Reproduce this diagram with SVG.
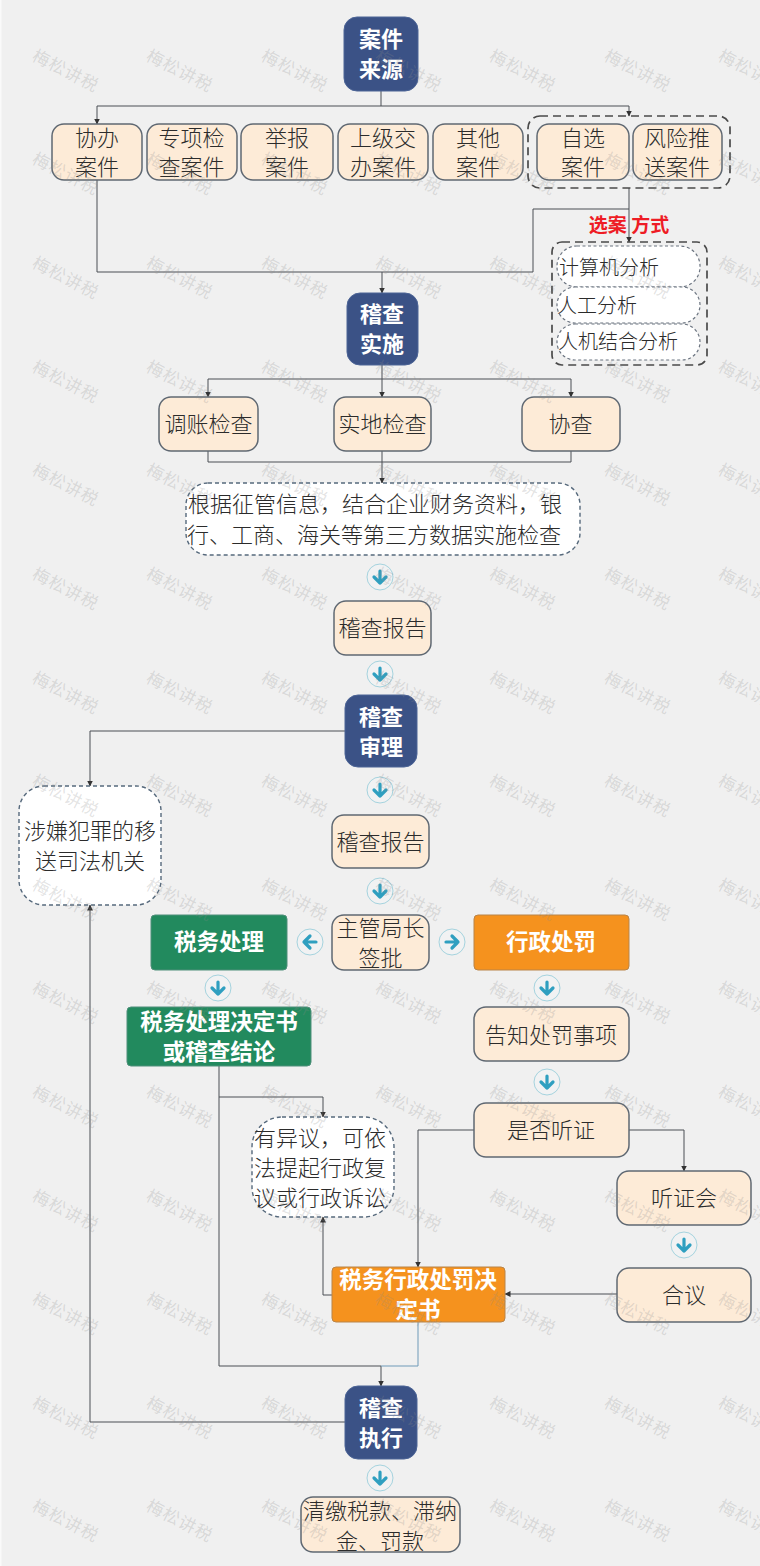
<svg xmlns="http://www.w3.org/2000/svg" width="760" height="1566" viewBox="0 0 760 1566">
<style>
text{font-family:"Noto Sans CJK SC","Noto Sans",sans-serif;text-anchor:middle}
.t{font-size:22px;fill:#2b2b2b;font-weight:300}
.w{font-size:22px;fill:#fff;font-weight:700}
.x{font-size:22.500px}
.s{font-size:20px;fill:#2b2b2b;font-weight:300}
.l{text-anchor:start}
.c{fill:#fdebd7;stroke:#5f6872;stroke-width:1.5}
.n{fill:#3b5286;stroke:#4c6496;stroke-width:1}
.g{fill:#228a5e;stroke:#4f8f7a;stroke-width:1}
.o{fill:#f5921e;stroke:#b98449;stroke-width:1}
.d{fill:#fff;stroke:#56697c;stroke-width:1.4;stroke-dasharray:4 3}
.p{fill:#fff;stroke:#6b7480;stroke-width:1.2;stroke-dasharray:3 2.5}
.b{fill:none;stroke:#4a4a4a;stroke-width:1.7;stroke-dasharray:8 5}
.e{fill:none;stroke:#4a4f55;stroke-width:1}
.ring{fill:#f1f2f3;stroke:#a5d3de;stroke-width:1}
.ar{fill:none;stroke:#2f9fc0;stroke-width:3.200;stroke-linecap:round;stroke-linejoin:round}
.wm{font-size:17px;fill:#8a8a8a;fill-opacity:.24;font-weight:400}
</style>
<defs>
<marker id="a" markerWidth="7" markerHeight="7" refX="5.500" refY="3" orient="auto" markerUnits="userSpaceOnUse"><path d="M0 0L6 3L0 6Z" fill="#333"/></marker>
<g id="ad"><circle class="ring" r="13"/><path class="ar" d="M0-6V6M-6 0L0 6L6 0"/></g>
<g id="al"><circle class="ring" r="13"/><path class="ar" d="M6 0H-6M0-6L-6 0L0 6"/></g>
<g id="ar"><circle class="ring" r="13"/><path class="ar" d="M-6 0H6M0-6L6 0L0 6"/></g>
<text id="m" class="wm" transform="rotate(27)" letter-spacing="1">梅松讲税</text>
</defs>
<rect width="760" height="1566" fill="#f0f0f0"/>
<rect width="1.500" height="1566" fill="#fafafa"/>
<g id="connectors">
<path class="e" marker-end="url(#a)" d="M381 91V106H97V124"/>
<path class="e" marker-end="url(#a)" d="M381 106H629V116"/>
<path class="e" d="M97 180V272H533V209H629"/>
<path class="e" marker-end="url(#a)" d="M629 188V242"/>
<path class="e" marker-end="url(#a)" d="M382 272V293"/>
<path class="e" marker-end="url(#a)" d="M382 365V397"/>
<path class="e" marker-end="url(#a)" d="M382 379H208V397"/>
<path class="e" marker-end="url(#a)" d="M382 379H571V397"/>
<path class="e" d="M208 451V462H571V451"/>
<path class="e" marker-end="url(#a)" d="M382 451V483"/>
<path class="e" marker-end="url(#a)" d="M345 731H90V786"/>
<path class="e" marker-end="url(#a)" d="M345 1422H90V905"/>
<path class="e" marker-end="url(#a)" d="M219 1066V1366H381V1386"/>
<path class="e" marker-end="url(#a)" d="M219 1097H323V1117"/>
<path class="e" style="stroke:#6f9ab8" d="M418 1322V1366H381"/>
<path class="e" marker-end="url(#a)" d="M474 1130H418V1267"/>
<path class="e" marker-end="url(#a)" d="M629 1130H684V1171"/>
<path class="e" marker-end="url(#a)" d="M617 1294H505"/>
<path class="e" marker-end="url(#a)" d="M332 1295H323V1217"/>
</g>
<g id="group-select"><rect class="b" x="528" y="116" width="202" height="72" rx="12"/></g>
<g id="group-method"><rect class="b" x="552" y="242" width="155" height="123" rx="10"/></g>
<g id="n1"><rect class="n" x="344" y="17" width="74" height="74" rx="13"/><text class="w" x="381" y="47">案件</text><text class="w" x="381" y="77">来源</text></g>
<g id="n2"><rect class="c" x="52" y="124" width="90" height="56" rx="12"/><text class="t" x="97" y="146">协办</text><text class="t" x="97" y="175">案件</text></g>
<g id="n3"><rect class="c" x="147" y="124" width="90" height="56" rx="12"/><text class="t" x="191.500" y="146">专项检</text><text class="t" x="191.500" y="175">查案件</text></g>
<g id="n4"><rect class="c" x="241" y="124" width="92" height="56" rx="12"/><text class="t" x="287" y="146">举报</text><text class="t" x="287" y="175">案件</text></g>
<g id="n5"><rect class="c" x="338" y="124" width="90" height="56" rx="12"/><text class="t" x="383" y="146">上级交</text><text class="t" x="383" y="175">办案件</text></g>
<g id="n6"><rect class="c" x="433" y="124" width="90" height="56" rx="12"/><text class="t" x="478" y="146">其他</text><text class="t" x="478" y="175">案件</text></g>
<g id="n7"><rect class="c" x="537" y="124" width="92" height="56" rx="12"/><text class="t" x="583" y="146">自选</text><text class="t" x="583" y="175">案件</text></g>
<g id="n8"><rect class="c" x="633" y="124" width="89" height="56" rx="12"/><text class="t" x="677" y="146">风险推</text><text class="t" x="677" y="175">送案件</text></g>
<g id="label-method"><text x="629" y="232" font-size="19" font-weight="700" fill="#ee1c25" xml:space="preserve">选案 方式</text></g>
<g id="m1"><rect class="p" x="557" y="246" width="143" height="41" rx="20"/><text class="s l" x="559" y="275">计算机分析</text></g>
<g id="m2"><rect class="p" x="557" y="287" width="143" height="36" rx="18"/><text class="s l" x="557" y="313">人工分析</text></g>
<g id="m3"><rect class="p" x="557" y="324" width="143" height="36" rx="18"/><text class="s l" x="558" y="349">人机结合分析</text></g>
<g id="n9"><rect class="n" x="347" y="293" width="71" height="72" rx="13"/><text class="w" x="382" y="322">稽查</text><text class="w" x="382" y="352">实施</text></g>
<g id="n10"><rect class="c" x="159" y="397" width="99" height="54" rx="12"/><text class="t" x="208.500" y="432">调账检查</text></g>
<g id="n11"><rect class="c" x="334" y="397" width="97" height="54" rx="12"/><text class="t" x="382.500" y="432">实地检查</text></g>
<g id="n12"><rect class="c" x="522" y="397" width="98" height="54" rx="12"/><text class="t" x="570.500" y="432">协查</text></g>
<g id="n13"><rect class="d" x="186" y="483" width="394" height="72" rx="22"/><text class="t" x="375" y="512" textLength="374">根据征管信息，结合企业财务资料，银</text><text class="t" x="374" y="543" textLength="374">行、工商、海关等第三方数据实施检查</text></g>
<use href="#ad" x="380" y="577"/>
<g id="n14"><rect class="c" x="334" y="601" width="97" height="54" rx="12"/><text class="t" x="382.500" y="636">稽查报告</text></g>
<use href="#ad" x="380" y="674"/>
<g id="n15"><rect class="n" x="345" y="695" width="72" height="72" rx="13"/><text class="w" x="381" y="725">稽查</text><text class="w" x="381" y="755">审理</text></g>
<g id="n16"><rect class="d" x="19" y="786" width="142" height="119" rx="25"/><text class="t" x="90" y="839">涉嫌犯罪的移</text><text class="t" x="90" y="869">送司法机关</text></g>
<use href="#ad" x="380" y="790"/>
<g id="n17"><rect class="c" x="332" y="815" width="97" height="53" rx="12"/><text class="t" x="380.500" y="850">稽查报告</text></g>
<use href="#ad" x="380" y="891"/>
<g id="n18"><rect class="c" x="332" y="915" width="97" height="55" rx="12"/><text class="t" x="380.500" y="936">主管局长</text><text class="t" x="380.500" y="966">签批</text></g>
<use href="#al" x="310" y="942"/>
<use href="#ar" x="452" y="942"/>
<g id="n19"><rect class="g" x="151" y="915" width="136" height="55" rx="4"/><text class="w x" x="219" y="950">税务处理</text></g>
<use href="#ad" x="218" y="988"/>
<g id="n20"><rect class="g" x="127" y="1007" width="184" height="59" rx="4"/><text class="w x" x="219" y="1030">税务处理决定书</text><text class="w x" x="219" y="1060">或稽查结论</text></g>
<g id="n21"><rect class="o" x="474" y="915" width="155" height="55" rx="4"/><text class="w x" x="551" y="950">行政处罚</text></g>
<use href="#ad" x="547" y="988"/>
<g id="n22"><rect class="c" x="474" y="1007" width="155" height="54" rx="12"/><text class="t" x="551" y="1043">告知处罚事项</text></g>
<use href="#ad" x="547" y="1082"/>
<g id="n23"><rect class="c" x="474" y="1103" width="155" height="54" rx="12"/><text class="t" x="551" y="1138">是否听证</text></g>
<g id="n24"><rect class="c" x="617" y="1171" width="134" height="54" rx="12"/><text class="t" x="684" y="1206">听证会</text></g>
<use href="#ad" x="684" y="1245"/>
<g id="n25"><rect class="c" x="617" y="1268" width="134" height="54" rx="12"/><text class="t" x="684" y="1303">合议</text></g>
<g id="n26"><rect class="d" x="252" y="1117" width="142" height="100" rx="30"/><text class="t" x="320" y="1146">有异议，可依</text><text class="t" x="320" y="1176">法提起行政复</text><text class="t" x="320" y="1206">议或行政诉讼</text></g>
<g id="n27"><rect class="o" x="332" y="1267" width="173" height="55" rx="4"/><text class="w x" x="418" y="1288">税务行政处罚决</text><text class="w x" x="418" y="1318">定书</text></g>
<g id="n28"><rect class="n" x="345" y="1386" width="72" height="73" rx="13"/><text class="w" x="381" y="1416">稽查</text><text class="w" x="381" y="1446">执行</text></g>
<use href="#ad" x="380" y="1478"/>
<g id="n29"><rect class="c" x="301" y="1497" width="159" height="55" rx="12"/><text class="t" x="380" y="1519">清缴税款、滞纳</text><text class="t" x="380" y="1549">金、罚款</text></g>
<g id="watermarks">
<use href="#m" x="63" y="76"/><use href="#m" x="177" y="76"/><use href="#m" x="292" y="76"/><use href="#m" x="406" y="76"/><use href="#m" x="520" y="76"/><use href="#m" x="635" y="76"/><use href="#m" x="749" y="76"/>
<use href="#m" x="63" y="179"/><use href="#m" x="177" y="179"/><use href="#m" x="292" y="179"/><use href="#m" x="406" y="179"/><use href="#m" x="520" y="179"/><use href="#m" x="635" y="179"/><use href="#m" x="749" y="179"/>
<use href="#m" x="63" y="283"/><use href="#m" x="177" y="283"/><use href="#m" x="292" y="283"/><use href="#m" x="406" y="283"/><use href="#m" x="520" y="283"/><use href="#m" x="635" y="283"/><use href="#m" x="749" y="283"/>
<use href="#m" x="63" y="387"/><use href="#m" x="177" y="387"/><use href="#m" x="292" y="387"/><use href="#m" x="406" y="387"/><use href="#m" x="520" y="387"/><use href="#m" x="635" y="387"/><use href="#m" x="749" y="387"/>
<use href="#m" x="63" y="490"/><use href="#m" x="177" y="490"/><use href="#m" x="292" y="490"/><use href="#m" x="406" y="490"/><use href="#m" x="520" y="490"/><use href="#m" x="635" y="490"/><use href="#m" x="749" y="490"/>
<use href="#m" x="63" y="594"/><use href="#m" x="177" y="594"/><use href="#m" x="292" y="594"/><use href="#m" x="406" y="594"/><use href="#m" x="520" y="594"/><use href="#m" x="635" y="594"/><use href="#m" x="749" y="594"/>
<use href="#m" x="63" y="698"/><use href="#m" x="177" y="698"/><use href="#m" x="292" y="698"/><use href="#m" x="406" y="698"/><use href="#m" x="520" y="698"/><use href="#m" x="635" y="698"/><use href="#m" x="749" y="698"/>
<use href="#m" x="63" y="801"/><use href="#m" x="177" y="801"/><use href="#m" x="292" y="801"/><use href="#m" x="406" y="801"/><use href="#m" x="520" y="801"/><use href="#m" x="635" y="801"/><use href="#m" x="749" y="801"/>
<use href="#m" x="63" y="905"/><use href="#m" x="177" y="905"/><use href="#m" x="292" y="905"/><use href="#m" x="406" y="905"/><use href="#m" x="520" y="905"/><use href="#m" x="635" y="905"/><use href="#m" x="749" y="905"/>
<use href="#m" x="63" y="1008"/><use href="#m" x="177" y="1008"/><use href="#m" x="292" y="1008"/><use href="#m" x="406" y="1008"/><use href="#m" x="520" y="1008"/><use href="#m" x="635" y="1008"/><use href="#m" x="749" y="1008"/>
<use href="#m" x="63" y="1112"/><use href="#m" x="177" y="1112"/><use href="#m" x="292" y="1112"/><use href="#m" x="406" y="1112"/><use href="#m" x="520" y="1112"/><use href="#m" x="635" y="1112"/><use href="#m" x="749" y="1112"/>
<use href="#m" x="63" y="1216"/><use href="#m" x="177" y="1216"/><use href="#m" x="292" y="1216"/><use href="#m" x="406" y="1216"/><use href="#m" x="520" y="1216"/><use href="#m" x="635" y="1216"/><use href="#m" x="749" y="1216"/>
<use href="#m" x="63" y="1319"/><use href="#m" x="177" y="1319"/><use href="#m" x="292" y="1319"/><use href="#m" x="406" y="1319"/><use href="#m" x="520" y="1319"/><use href="#m" x="635" y="1319"/><use href="#m" x="749" y="1319"/>
<use href="#m" x="63" y="1423"/><use href="#m" x="177" y="1423"/><use href="#m" x="292" y="1423"/><use href="#m" x="406" y="1423"/><use href="#m" x="520" y="1423"/><use href="#m" x="635" y="1423"/><use href="#m" x="749" y="1423"/>
<use href="#m" x="63" y="1526"/><use href="#m" x="177" y="1526"/><use href="#m" x="292" y="1526"/><use href="#m" x="406" y="1526"/><use href="#m" x="520" y="1526"/><use href="#m" x="635" y="1526"/><use href="#m" x="749" y="1526"/>
</g>
</svg>
